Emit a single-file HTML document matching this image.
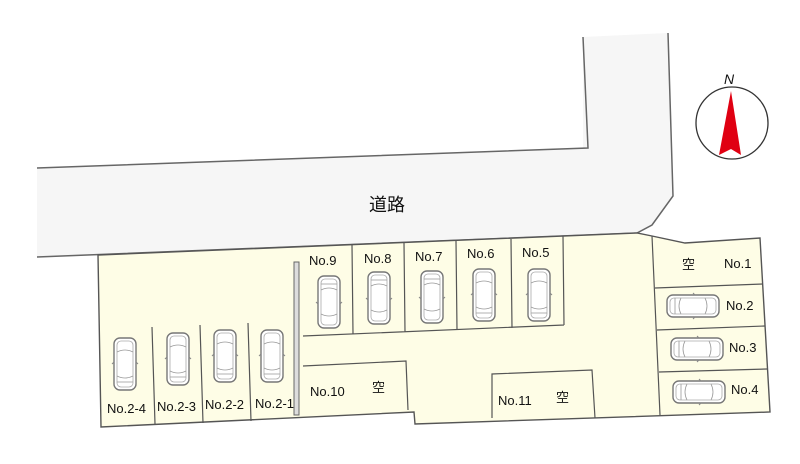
<!DOCTYPE html>
<html><head><meta charset="utf-8"><style>
html,body{margin:0;padding:0;background:#fff;}
svg{display:block}
text{font-family:"Liberation Sans","Noto Sans CJK JP",sans-serif;fill:#111;}
</style></head><body>
<svg width="800" height="464" viewBox="0 0 800 464" xmlns="http://www.w3.org/2000/svg">
<defs>
<g id="car">
<rect x="-11" y="-26" width="22" height="52" rx="6" fill="#fff" stroke="#777" stroke-width="1.4"/>
<rect x="-8" y="-23" width="16" height="46" rx="4" fill="#fff" stroke="#aaa" stroke-width="0.8"/>
<path d="M-8,-12 Q0,-16 8,-12 M-8,12 Q0,16 8,12 M-8,18 L8,18" fill="none" stroke="#999" stroke-width="0.8"/>
<path d="M-11,-2 l-2,2 M11,-2 l2,2" stroke="#888" stroke-width="1"/>
</g>
</defs>
<!-- road -->
<path d="M37,168 L583,149 L583,37 L668,33 L673,196 L652,225 L637,233 L37,257 Z" fill="#f6f6f6"/>
<path d="M37,168 L588,148 L583,37 M668,33 L673,196 L652,225 L637,233 L37,257" fill="none" stroke="#666" stroke-width="1.5"/>
<text x="369" y="211" font-size="18">道路</text>
<!-- lot -->
<path d="M98,255 L637,233 L652,236 L685,243 L760,238 L770,412 L415,424 L414,412 L101,427 Z" fill="#fefde6" stroke="#555" stroke-width="1.4"/>
<!-- right slots -->
<path d="M652,236 L660,415 M655,288 L763,284 M657,330 L765,326 M659,372 L767,369" stroke="#555" stroke-width="1.2" fill="none"/>
<!-- top slots -->
<path d="M303,336 L564,325 M563,236 L564,325 M352,245 L353,334 M404,243 L405,332 M456,241 L457,330 M511,239 L512,328" stroke="#555" stroke-width="1.2" fill="none"/>
<!-- wall -->
<rect x="294" y="262" width="5" height="153" fill="#ddd" stroke="#666" stroke-width="1"/>
<!-- No.10 box -->
<path d="M303,366 L406,361 L408,410" stroke="#555" stroke-width="1.2" fill="none"/>
<!-- No.11 box -->
<path d="M492,418 L492,374 L592,370 L595,418" stroke="#555" stroke-width="1.2" fill="none"/>
<!-- left slots -->
<path d="M152,327 L155,424 M200,325 L203,423 M248,323 L251,421" stroke="#555" stroke-width="1.2" fill="none"/>
<!-- cars -->
<use href="#car" transform="translate(329,302) rotate(180)"/>
<use href="#car" transform="translate(379,298) rotate(180)"/>
<use href="#car" transform="translate(432,297) rotate(180)"/>
<use href="#car" transform="translate(484,295)"/>
<use href="#car" transform="translate(539,295)"/>
<use href="#car" transform="translate(125,364)"/>
<use href="#car" transform="translate(178,359)"/>
<use href="#car" transform="translate(225,356)"/>
<use href="#car" transform="translate(272,356)"/>
<use href="#car" transform="translate(693,306) rotate(90)"/>
<use href="#car" transform="translate(697,349) rotate(90)"/>
<use href="#car" transform="translate(699,392) rotate(90)"/>
<!-- labels -->
<g font-size="13">
<text x="309" y="265">No.9</text>
<text x="364" y="263">No.8</text>
<text x="415" y="261">No.7</text>
<text x="467" y="258">No.6</text>
<text x="522" y="257">No.5</text>
<text x="107" y="413">No.2-4</text>
<text x="157" y="411">No.2-3</text>
<text x="205" y="409">No.2-2</text>
<text x="255" y="408">No.2-1</text>
<text x="310" y="396">No.10</text>
<text x="372" y="392">空</text>
<text x="498" y="405">No.11</text>
<text x="556" y="402">空</text>
<text x="682" y="269">空</text>
<text x="724" y="268">No.1</text>
<text x="726" y="310">No.2</text>
<text x="729" y="352">No.3</text>
<text x="731" y="394">No.4</text>
</g>
<!-- compass -->
<circle cx="732" cy="123" r="36" fill="#fff" stroke="#333" stroke-width="1.3"/>
<path d="M731,91 L741,155 L731,149 L719,155 Z" fill="#e00012"/>
<text x="724" y="84" font-size="14" font-style="italic">N</text>
</svg>
</body></html>
